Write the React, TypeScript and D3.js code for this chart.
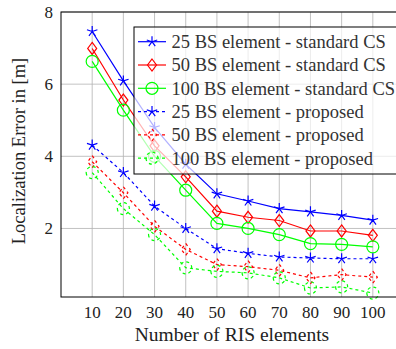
import React, { useRef, useEffect } from 'react';
import * as d3 from 'd3';

const risElements = [10, 20, 30, 40, 50, 60, 70, 80, 90, 100];
const yTicks = [2, 4, 6, 8];

const bs25Standard = [7.46, 6.09, 4.8, 3.78, 2.96, 2.76, 2.55, 2.46, 2.36, 2.23];
const bs50Standard = [6.99, 5.56, 4.29, 3.43, 2.48, 2.31, 2.22, 1.93, 1.93, 1.81];
const bs100Standard = [6.63, 5.28, 4.0, 3.06, 2.14, 2.0, 1.83, 1.58, 1.56, 1.49];
const bs25Proposed = [4.31, 3.55, 2.62, 2.0, 1.44, 1.31, 1.21, 1.18, 1.16, 1.16];
const bs50Proposed = [3.85, 2.99, 2.06, 1.42, 1.0, 0.94, 0.84, 0.63, 0.72, 0.65];
const bs100Proposed = [3.55, 2.55, 1.83, 0.91, 0.81, 0.77, 0.63, 0.35, 0.38, 0.21];

type Mark = 'star' | 'diamond' | 'circle';

interface Series {
    name: string;
    values: number[];
    color: string;
    mark: Mark;
    dashed: boolean;
    dashedMark: boolean;
}

const series: Series[] = [
    { name: '25 BS element - standard CS', values: bs25Standard, color: '#0000ff', mark: 'star', dashed: false, dashedMark: false },
    { name: '50 BS element - standard CS', values: bs50Standard, color: '#ff0000', mark: 'diamond', dashed: false, dashedMark: false },
    { name: '100 BS element - standard CS', values: bs100Standard, color: '#00ff00', mark: 'circle', dashed: false, dashedMark: false },
    { name: '25 BS element - proposed', values: bs25Proposed, color: '#0000ff', mark: 'star', dashed: true, dashedMark: false },
    { name: '50 BS element - proposed', values: bs50Proposed, color: '#ff0000', mark: 'diamond', dashed: true, dashedMark: true },
    { name: '100 BS element - proposed', values: bs100Proposed, color: '#00ff00', mark: 'circle', dashed: true, dashedMark: true },
];

const width = 396;
const height = 349;
const font = "'Liberation Serif', 'Times New Roman', 'DejaVu Serif', serif";

const markPath = (mark: Mark): string => {
    if (mark === 'star') {
        const r = 5.5;
        let p = '';
        for (let k = 0; k < 5; k++) {
            const a = -Math.PI / 2 + (k * 2 * Math.PI) / 5;
            p += `M0,0L${r * Math.cos(a)},${r * Math.sin(a)}`;
        }
        return p;
    }
    if (mark === 'diamond') {
        return 'M0,-6L4.5,0L0,6L-4.5,0Z';
    }
    const r = 6;
    return `M${-r},0A${r},${r} 0 1,0 ${r},0A${r},${r} 0 1,0 ${-r},0Z`;
};

const App: React.FC = () => {
    const svgRef = useRef<SVGSVGElement | null>(null);

    useEffect(() => {
        if (!svgRef.current) return;
        const svg = d3.select(svgRef.current);
        svg.selectAll('*').remove();

        const x = d3.scaleLinear().domain([0, 110]).range([61, 404]);
        const y = d3.scaleLinear().domain([0.1, 8]).range([297, 12]);

        // grid
        const grid = svg.append('g').attr('stroke', '#b3b3b3').attr('stroke-width', 0.8);
        risElements.forEach((t) => {
            grid.append('line').attr('x1', x(t)).attr('x2', x(t)).attr('y1', y(0.1)).attr('y2', y(8));
        });
        yTicks.forEach((t) => {
            grid.append('line').attr('x1', x(0)).attr('x2', x(110)).attr('y1', y(t)).attr('y2', y(t));
        });

        // series
        const line = d3
            .line<number>()
            .x((_, i) => x(risElements[i]))
            .y((d) => y(d));

        series.forEach((s) => {
            const g = svg.append('g');
            g.append('path')
                .attr('d', line(s.values)!)
                .attr('fill', 'none')
                .attr('stroke', s.color)
                .attr('stroke-width', 1.2)
                .attr('stroke-dasharray', s.dashed ? '3,3' : null);
            g.selectAll('path.mark')
                .data(s.values)
                .enter()
                .append('path')
                .attr('class', 'mark')
                .attr('transform', (d, i) => `translate(${x(risElements[i])},${y(d)})`)
                .attr('d', markPath(s.mark))
                .attr('fill', 'none')
                .attr('stroke', s.color)
                .attr('stroke-width', 1.2)
                .attr('stroke-dasharray', s.dashedMark ? '3,3' : null);
        });

        // frame
        svg.append('rect')
            .attr('x', x(0))
            .attr('y', y(8))
            .attr('width', x(110) - x(0))
            .attr('height', y(0.1) - y(8))
            .attr('fill', 'none')
            .attr('stroke', '#000')
            .attr('stroke-width', 1);

        const txt = svg.append('g').style('font-family', font).attr('fill', '#222');

        // tick labels
        txt.append('g')
            .selectAll('text')
            .data(risElements)
            .enter()
            .append('text')
            .attr('x', (d) => x(d))
            .attr('y', 318)
            .attr('text-anchor', 'middle')
            .style('font-size', '17px')
            .text((d) => d);
        txt.append('g')
            .selectAll('text')
            .data(yTicks)
            .enter()
            .append('text')
            .attr('x', 53)
            .attr('y', (d) => y(d))
            .attr('dy', '0.35em')
            .attr('text-anchor', 'end')
            .style('font-size', '17px')
            .text((d) => d);

        // axis labels
        txt.append('text')
            .attr('x', 232)
            .attr('y', 341)
            .attr('text-anchor', 'middle')
            .style('font-size', '19.5px')
            .text('Number of RIS elements');
        txt.append('text')
            .attr('transform', 'translate(25,151) rotate(-90)')
            .attr('text-anchor', 'middle')
            .style('font-size', '18.5px')
            .text('Localization Error in [m]');

        // legend
        const lg = svg.append('g');
        lg.append('rect')
            .attr('x', 134)
            .attr('y', 27)
            .attr('width', 280)
            .attr('height', 147)
            .attr('fill', '#fff')
            .attr('fill-opacity', 0.7)
            .attr('stroke', '#000')
            .attr('stroke-width', 1);
        series.forEach((s, i) => {
            const cy = 41.7 + i * 23.3;
            lg.append('line')
                .attr('x1', 138)
                .attr('x2', 166)
                .attr('y1', cy)
                .attr('y2', cy)
                .attr('stroke', s.color)
                .attr('stroke-width', 1.2)
                .attr('stroke-dasharray', s.dashed ? '3,3' : null);
            lg.append('path')
                .attr('transform', `translate(152,${cy})`)
                .attr('d', markPath(s.mark))
                .attr('fill', 'none')
                .attr('stroke', s.color)
                .attr('stroke-width', 1.2)
                .attr('stroke-dasharray', s.dashedMark ? '3,3' : null);
            lg.append('text')
                .attr('x', 171.5)
                .attr('y', cy)
                .attr('dy', '0.35em')
                .style('font-family', font)
                .style('font-size', '18.5px')
                .attr('fill', '#333')
                .text(s.name);
        });
    }, []);

    return (
        <svg
            ref={svgRef}
            width={width}
            height={height}
            style={{ position: 'absolute', left: 0, top: 0, background: '#fff' }}
        ></svg>
    );
};

export default App;
